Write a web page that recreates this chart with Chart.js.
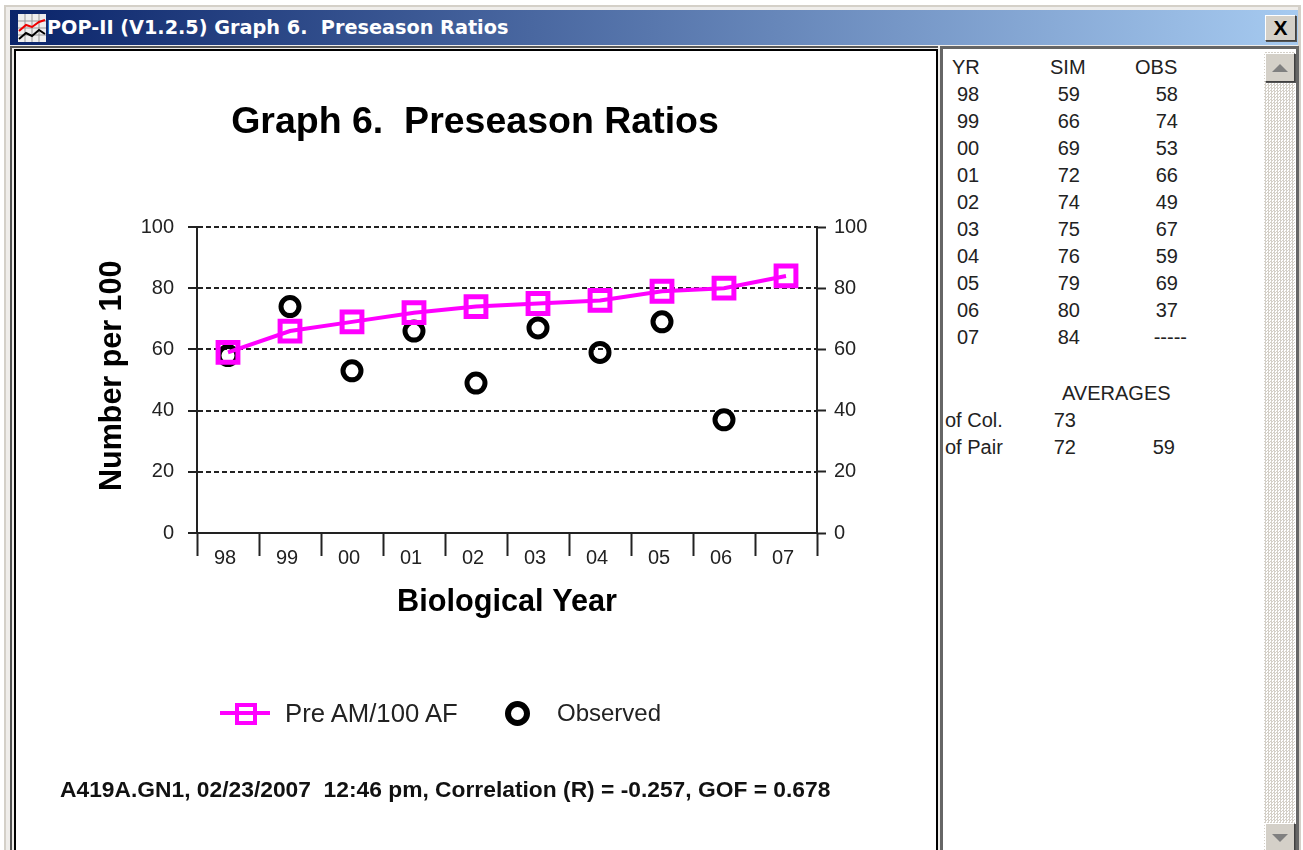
<!DOCTYPE html>
<html>
<head>
<meta charset="utf-8">
<title>Graph 6. Preseason Ratios</title>
<script src="https://cdn.jsdelivr.net/npm/chart.js@4"></script>
<style>
  html, body { margin: 0; background: #fff; }
  #win { position: relative; width: 1303px; height: 850px; overflow: hidden; font-family: "Liberation Sans", Arial, sans-serif; color: #111; }
  #win div, #win canvas { position: absolute; }
  #frame { left: 4px; top: 5px; width: 1297px; height: 845px; background: #d4d0c8; }
  #inner { left: 6px; top: 7px; width: 1292px; height: 843px; background: #efedea; }
  #bar { left: 10px; top: 10px; width: 1288px; height: 35px; background: linear-gradient(90deg, #0a246a, #a6caf0); }
  #barText { left: 47px; top: 16px; color: #fff; font: bold 19.25px "DejaVu Sans", sans-serif; white-space: pre; }
  #icon { left: 18px; top: 14px; width: 28px; height: 28px; }
  #close { left: 1265px; top: 15px; width: 29px; height: 24px; background: #d4d0c8; border: 1px solid; border-color: #fff #404040 #404040 #fff; box-shadow: 1px 1px 0 #555; font: bold 21px "Liberation Sans", sans-serif; line-height: 24px; text-align: center; color: #000; }
  #leftOuter { left: 10px; top: 46px; width: 926px; height: 810px; background: #efedea; border: 2px solid #555; border-right-width: 0; }
  #left { left: 14px; top: 49px; width: 920px; height: 810px; background: #fff; border: 2px solid #000; }
  #right { left: 940px; top: 46px; width: 353px; height: 810px; background: #fff; border: 3px solid #666; }
  #track { left: 1264px; top: 52px; width: 31px; height: 798px; background: repeating-conic-gradient(#d4d0c8 0 25%, #fff 0 50%) 0 0 / 3px 3px; }
  .sb { left: 1265px; width: 28px; height: 27px; background: #d4d0c8; border: 1px solid; border-color: #fff #404040 #404040 #fff; box-shadow: 1px 1px 0 #555; }
  #up { top: 53px; }
  #down { top: 823px; }
  .tri { left: 6px; width: 0; height: 0; border-left: 8px solid transparent; border-right: 8px solid transparent; }
  #chart { left: 16px; top: 52px; }
  .t { font-size: 20px; white-space: pre; line-height: 24px; color: #222; }
  .lg { white-space: pre; line-height: 30px; color: #222; }
  #foot { left: 60px; top: 776px; font: bold 22.8px "Liberation Sans", sans-serif; white-space: pre; color: #111; }
  #lgLine { left: 220px; top: 711px; width: 50px; height: 4px; background: #ff00ff; }
  #lgBox { left: 235px; top: 703px; width: 14px; height: 14px; border: 4px solid #ff00ff; background: #fff; }
  #lgBar { left: 239px; top: 711px; width: 14px; height: 4px; background: #ff00ff; }
  #lgDot { left: 505px; top: 701px; width: 13px; height: 13px; border: 6px solid #000; border-radius: 50%; }
</style>
</head>
<body>
<div id="win">
  <div id="frame"></div>
  <div id="inner"></div>
  <div id="bar"></div>
  <div id="icon">
    <svg width="28" height="28" viewBox="0 0 28 28">
      <rect width="28" height="28" fill="#eee"/>
      <path d="M0 7H28M0 14H28M0 21H28M7 0V28M14 0V28M21 0V28" stroke="#999"/>
      <path d="M1 17L8 11L14 13L21 8L27 6" stroke="#e00" stroke-width="2" fill="none"/>
      <path d="M1 25L8 19L14 22L21 16L27 20" stroke="#000" stroke-width="2" fill="none"/>
    </svg>
  </div>
  <div id="barText">POP-II (V1.2.5) Graph 6.  Preseason Ratios</div>
  <div id="close">X</div>
  <div id="leftOuter"></div>
  <div id="left"></div>
  <div id="right"></div>
  <div id="track"></div>
  <div id="up" class="sb"><div class="tri" style="top:10px;border-bottom:8px solid #808080"></div></div>
  <div id="down" class="sb"><div class="tri" style="top:10px;border-top:8px solid #808080"></div></div>
  <canvas id="chart" width="918" height="798"></canvas>
  <div id="lgLine"></div>
  <div id="lgBox"></div>
  <div id="lgBar"></div>
  <div class="lg" style="left:285px;top:698px;font-size:25.7px">Pre AM/100 AF</div>
  <div id="lgDot"></div>
  <div class="lg" style="left:557px;top:698px;font-size:24px">Observed</div>
  <div id="foot">A419A.GN1, 02/23/2007  12:46 pm, Correlation (R) = -0.257, GOF = 0.678</div>
</div>

<script>
const years = ['98', '99', '00', '01', '02', '03', '04', '05', '06', '07'];
const simValues = [59, 66, 69, 72, 74, 75, 76, 79, 80, 84];
const obsValues = [58, 74, 53, 66, 49, 67, 59, 69, 37, null];
const colAverages = ['73', ''];
const pairAverages = ['72', '59'];
const yTicks = [0, 20, 40, 60, 80, 100];

const MAGENTA = '#ff00ff';
const INK = '#222';

function putText(text, x, y, right) {
    const el = document.createElement('div');
    el.className = 't';
    el.textContent = text;
    el.style.top = (y - 12) + 'px';
    if (right) {
        el.style.right = (1303 - x) + 'px';
    } else {
        el.style.left = x + 'px';
    }
    document.getElementById('win').appendChild(el);
}

function fillTable() {
    putText('YR', 952, 67);
    putText('SIM', 1050, 67);
    putText('OBS', 1135, 67);
    years.forEach((yr, i) => {
        const y = 94 + i * 27;
        putText(yr, 957, y);
        putText(String(simValues[i]), 1080, y, true);
        if (obsValues[i] === null) {
            putText('-----', 1187, y, true);
        } else {
            putText(String(obsValues[i]), 1178, y, true);
        }
    });
    putText('AVERAGES', 1062, 393);
    putText('of Col.', 945, 420);
    putText(colAverages[0], 1076, 420, true);
    putText('of Pair', 945, 447);
    putText(pairAverages[0], 1076, 447, true);
    putText(pairAverages[1], 1175, 447, true);
}

function createRatioChart() {
    const ctx = document.getElementById('chart');
    if (!ctx) return;

    const tickFont = { family: "'Liberation Sans', sans-serif", size: 20 };

    new Chart(ctx, {
        type: 'line',
        data: {
            labels: years,
            datasets: [{
                label: 'Pre AM/100 AF',
                data: simValues,
                yAxisID: 'y',
                order: 1,
                borderColor: MAGENTA,
                borderWidth: 4,
                tension: 0,
                pointStyle: 'rect',
                pointRadius: 14,
                pointBorderWidth: 5,
                pointBorderColor: MAGENTA,
                pointBackgroundColor: 'transparent'
            }, {
                label: 'Observed',
                data: obsValues,
                yAxisID: 'y',
                order: 2,
                showLine: false,
                pointStyle: 'circle',
                pointRadius: 9,
                pointBorderWidth: 5,
                pointBorderColor: '#000',
                pointBackgroundColor: 'transparent'
            }]
        },
        options: {
            responsive: false,
            animation: false,
            layout: { padding: 0 },
            plugins: {
                legend: { display: false },
                tooltip: { enabled: false },
                title: {
                    display: true,
                    text: 'Graph 6.  Preseason Ratios',
                    color: '#000',
                    font: { family: "'Liberation Sans', sans-serif", size: 37.5, weight: 'bold', lineHeight: 1.2 },
                    padding: { top: 48, bottom: 82 }
                }
            },
            scales: {
                x: {
                    offset: true,
                    grid: { drawOnChartArea: false, tickColor: INK, tickWidth: 2, tickLength: 23, offset: true },
                    border: { color: INK, width: 2 },
                    ticks: { color: INK, font: tickFont, padding: -10, labelOffset: -3, maxRotation: 0, autoSkip: false },
                    title: {
                        display: true,
                        text: 'Biological Year',
                        color: '#000',
                        font: { family: "'Liberation Sans', sans-serif", size: 30.7, weight: 'bold', lineHeight: 1.2 },
                        padding: { top: 0, bottom: 229 }
                    },
                    afterFit: (scale) => { scale.height = 317; }
                },
                y: {
                    position: 'left',
                    min: 0,
                    max: 100,
                    afterBuildTicks: (scale) => { scale.ticks = yTicks.map(v => ({ value: v })); },
                    grid: {
                        color: (c) => c.tick.value === 0 ? 'transparent' : INK,
                        lineWidth: 2,
                        tickColor: INK,
                        tickLength: 9
                    },
                    border: { color: INK, width: 2, dash: [5, 3] },
                    ticks: { color: INK, font: tickFont, padding: 14 },
                    title: {
                        display: true,
                        // leading space nudges the rotated text up a few px
                        text: ' Number per 100',
                        color: '#000',
                        font: { family: "'Liberation Sans', sans-serif", size: 30.5, weight: 'bold', lineHeight: 1.2 },
                        padding: { top: 78, bottom: 0 }
                    },
                    afterFit: (scale) => { scale.width = 181; }
                },
                y2: {
                    position: 'right',
                    min: 0,
                    max: 100,
                    afterBuildTicks: (scale) => { scale.ticks = yTicks.map(v => ({ value: v })); },
                    grid: { drawOnChartArea: false, tickColor: INK, tickWidth: 2, tickLength: 9 },
                    border: { color: INK, width: 2 },
                    ticks: { color: INK, font: tickFont, padding: 8 },
                    afterFit: (scale) => { scale.width = 117; }
                }
            }
        }
    });
}

document.addEventListener('DOMContentLoaded', () => {
    fillTable();
    createRatioChart();
});
</script>
</body>
</html>
